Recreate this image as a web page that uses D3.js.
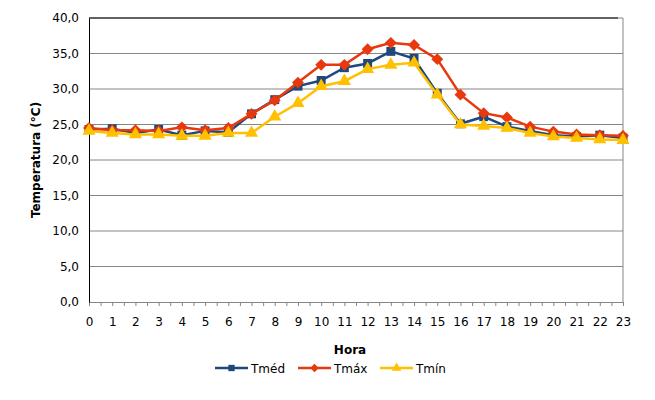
<!DOCTYPE html>
<html>
<head>
<meta charset="utf-8">
<script src="https://cdn.jsdelivr.net/npm/d3@7"></script>
<style>
  body { margin: 0; background: #fff; }
  text { font-family: "DejaVu Sans", Verdana, sans-serif; fill: #000; }
</style>
</head>
<body>
<svg id="chart" width="655" height="400"></svg>
<script>
// hours of the day
const hours = d3.range(0, 24);

// series values (°C)
const tMed = [24.3, 24.4, 23.8, 24.3, 23.5, 24.1, 23.9, 26.5, 28.5, 30.4, 31.2, 33.0,
              33.6, 35.3, 34.3, 29.4, 25.1, 26.1, 24.7, 24.1, 23.5, 23.3, 23.5, 23.1];
const tMax = [24.5, 24.2, 24.2, 24.1, 24.6, 24.2, 24.5, 26.5, 28.4, 30.9, 33.4, 33.4,
              35.6, 36.5, 36.2, 34.2, 29.2, 26.6, 26.0, 24.7, 24.0, 23.6, 23.5, 23.4];
const tMin = [24.1, 23.8, 23.6, 23.6, 23.4, 23.4, 23.8, 23.8, 26.1, 28.0, 30.4, 31.1,
              32.8, 33.4, 33.7, 29.2, 25.0, 24.8, 24.5, 23.8, 23.3, 23.1, 22.9, 22.8];

const yTicks = [0, 5, 10, 15, 20, 25, 30, 35, 40];

const series = [
  {name: 'Tméd', values: tMed, color: '#1F497D', marker: 'square'},
  {name: 'Tmáx', values: tMax, color: '#E8380D', marker: 'diamond'},
  {name: 'Tmín', values: tMin, color: '#FFC000', marker: 'triangle'}
];

const svg = d3.select('#chart');
const margin = {t: 18, r: 32, b: 98, l: 89};
const width = 655, height = 400;

const x = d3.scaleLinear().domain([0, 23]).range([margin.l, width - margin.r]);
const y = d3.scaleLinear().domain([0, 40]).range([height - margin.b, margin.t]);

// gridlines
svg.append('g')
  .selectAll('line')
  .data(yTicks.slice(1))
  .join('line')
  .attr('x1', x(0)).attr('x2', x(23))
  .attr('y1', d => y(d)).attr('y2', d => y(d))
  .attr('stroke', '#868686').attr('stroke-width', 1);

// plot border: right gray, top black
svg.append('line')
  .attr('x1', x(23)).attr('x2', x(23)).attr('y1', y(40)).attr('y2', y(0))
  .attr('stroke', '#868686');
svg.append('line')
  .attr('x1', x(0)).attr('x2', x(23) - 5).attr('y1', y(40)).attr('y2', y(40))
  .attr('stroke', '#000');

// x axis with half-hour ticks
const fmt = d3.format('.1f');
const xAxis = svg.append('g')
  .attr('transform', `translate(0,${y(0)})`)
  .call(d3.axisBottom(x).tickValues(d3.range(0, 23.5, 0.5)).tickSize(4)
    .tickFormat(d => Number.isInteger(d) ? d : ''));
xAxis.select('.domain').attr('stroke', '#868686');
xAxis.selectAll('.tick line').attr('stroke', '#868686');
xAxis.selectAll('.tick text').attr('dy', '1.45em')
  .style('font-size', '12px').style('font-family', '"DejaVu Sans", Verdana, sans-serif');

// y axis
const yAxis = svg.append('g')
  .attr('transform', `translate(${x(0)},0)`)
  .call(d3.axisLeft(y).tickValues(yTicks).tickSize(0).tickPadding(10)
    .tickFormat(d => fmt(d).replace('.', ',')));
yAxis.select('.domain').attr('stroke', '#000');
yAxis.selectAll('.tick text')
  .style('font-size', '12px').style('font-family', '"DejaVu Sans", Verdana, sans-serif');

// axis titles
svg.append('text')
  .attr('x', 350).attr('y', 354)
  .attr('text-anchor', 'middle')
  .style('font-size', '12px').style('font-weight', 'bold')
  .text('Hora');
svg.append('text')
  .attr('transform', `translate(40,${(y(0) + y(40)) / 2}) rotate(-90)`)
  .attr('text-anchor', 'middle')
  .style('font-size', '12px').style('font-weight', 'bold')
  .text('Temperatura (°C)');

// marker shapes
const symbolFor = {
  square: d3.symbol().type(d3.symbolSquare).size(80),
  diamond: d3.symbol().type(d3.symbolDiamond2).size(90),
  triangle: d3.symbol().type(d3.symbolTriangle).size(75)
};
const smallSymbolFor = {
  square: d3.symbol().type(d3.symbolSquare).size(40),
  diamond: d3.symbol().type(d3.symbolDiamond2).size(45),
  triangle: d3.symbol().type(d3.symbolTriangle).size(40)
};

const line = d3.line()
  .x((d, i) => x(hours[i]))
  .y(d => y(d));

series.forEach(s => {
  const g = svg.append('g');
  g.append('path')
    .datum(s.values)
    .attr('d', line)
    .attr('fill', 'none')
    .attr('stroke', s.color)
    .attr('stroke-width', 2.5);
  g.selectAll('path.m')
    .data(s.values)
    .join('path')
    .attr('class', 'm')
    .attr('d', symbolFor[s.marker])
    .attr('transform', (d, i) => `translate(${x(hours[i])},${y(d)})`)
    .attr('fill', s.color);
});

// legend
const legendX = [215, 298, 380];
const legend = svg.append('g');
series.forEach((s, i) => {
  const lx = legendX[i], ly = 368;
  legend.append('line')
    .attr('x1', lx).attr('x2', lx + 33).attr('y1', ly).attr('y2', ly)
    .attr('stroke', s.color).attr('stroke-width', 2.5);
  legend.append('path')
    .attr('d', smallSymbolFor[s.marker])
    .attr('transform', `translate(${lx + 16.5},${ly})`)
    .attr('fill', s.color);
  legend.append('text')
    .attr('x', lx + 36).attr('y', ly + 4.5)
    .style('font-size', '12px')
    .text(s.name);
});
</script>
</body>
</html>
